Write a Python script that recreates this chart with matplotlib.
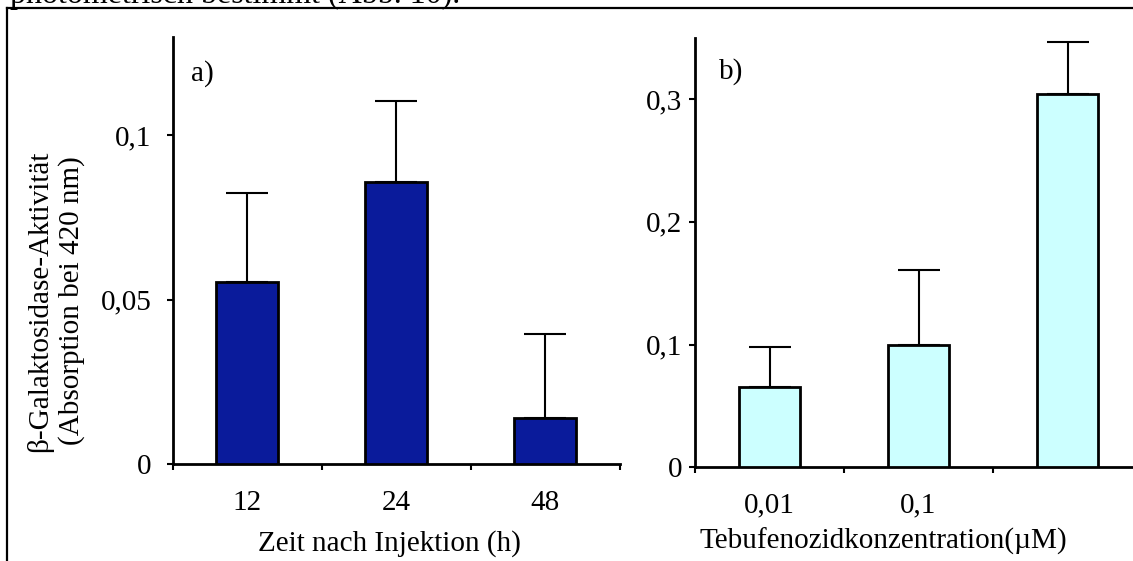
import matplotlib
matplotlib.use("Agg")
import matplotlib.pyplot as plt
from matplotlib.lines import Line2D
import numpy as np

plt.rcParams['font.family'] = ['Liberation Serif', 'DejaVu Serif']

# Panel a data
a_categories = ["12", "24", "48"]
a_values = [0.0554, 0.0857, 0.0139]
a_errors = [0.0272, 0.0248, 0.0256]
a_yticks = [0, 0.05, 0.1]
a_yticklabels = ["0", "0,05", "0,1"]

# Panel b data
b_categories = ["0,01", "0,1", ""]
b_values = [0.065, 0.100, 0.304]
b_errors = [0.033, 0.061, 0.042]
b_yticks = [0, 0.1, 0.2, 0.3]
b_yticklabels = ["0", "0,1", "0,2", "0,3"]

W, H = 1133, 561
DPI = 100
fig = plt.figure(figsize=(W / DPI, H / DPI), dpi=DPI)
fig.patch.set_facecolor("white")

FS = 21
LW = 2.0


def px(x0, y0_top, w, h):
    """convert pixel box (left, top, width, height) to figure fraction rect"""
    return [x0 / W, (H - y0_top - h) / H, w / W, h / H]


def style_axes(ax, ymax, yticks, yticklabels, cats, ypad, xpad):
    n = len(cats)
    ax.set_xlim(0.5, n + 0.5)
    ax.set_ylim(0, ymax)
    for s in ("top", "right"):
        ax.spines[s].set_visible(False)
    for s in ("left", "bottom"):
        ax.spines[s].set_linewidth(LW)
    ax.set_yticks(yticks)
    ax.set_yticklabels(yticklabels, fontsize=FS)
    ax.tick_params(axis="y", direction="out", length=4.3, width=1.5, pad=ypad)
    ax.set_xticks(np.arange(0.5, n + 1, 1.0))
    ax.set_xticklabels([])
    ax.tick_params(axis="x", which="major", direction="out", length=4.3, width=1.5)
    ax.set_xticks(np.arange(1, n + 1), minor=True)
    ax.set_xticklabels(cats, minor=True, fontsize=FS)
    ax.tick_params(axis="x", which="minor", length=0, pad=xpad)


# ---------- panel a ----------
axa = fig.add_axes(px(172.7, 36.8, 447.0, 427.3))
xa = np.arange(1, len(a_categories) + 1)
axa.bar(xa, a_values, width=0.42, color="#0A1B9B", edgecolor="black",
        linewidth=LW, zorder=3)
axa.errorbar(xa, a_values, yerr=[np.zeros(len(a_errors)), a_errors], fmt="none",
             ecolor="black", elinewidth=1.5, capsize=15, capthick=1.5, zorder=2)
style_axes(axa, 0.13, a_yticks, a_yticklabels, a_categories, ypad=11, xpad=19)
axa.text(0.041, 0.913, "a)", transform=axa.transAxes, fontsize=FS,
         ha="left", va="center")
axa.set_xlabel("Zeit nach Injektion (h)", fontsize=FS)
axa.xaxis.label.set_va("center")
axa.xaxis.set_label_coords(0.484, -0.185)

# ---------- panel b ----------
axb = fig.add_axes(px(695.0, 37.5, 447.0, 429.8))
xb = np.arange(1, len(b_categories) + 1)
axb.bar(xb, b_values, width=0.41, color="#CCFFFF", edgecolor="black",
        linewidth=LW, zorder=3)
axb.errorbar(xb, b_values, yerr=[np.zeros(len(b_errors)), b_errors], fmt="none",
             ecolor="black", elinewidth=1.5, capsize=15, capthick=1.5, zorder=2)
style_axes(axb, 0.35, b_yticks, b_yticklabels, b_categories, ypad=5, xpad=18)
axb.text(0.054, 0.92, "b)", transform=axb.transAxes, fontsize=FS,
         ha="left", va="center")
axb.set_xlabel("Tebufenozidkonzentration(\u00b5M)", fontsize=FS)
axb.xaxis.label.set_va("center")
axb.xaxis.set_label_coords(0.4206, -0.173)

# ---------- shared y label ----------
fig.text(55.5 / W, (H - 301) / H,
         "\u03b2-Galaktosidase-Aktivit\u00e4t\n(Absorption bei 420 nm)",
         rotation=90, fontsize=FS, ha="center", va="center",
         multialignment="center", linespacing=1.2)

# ---------- frame and clipped caption above ----------
fig.add_artist(Line2D([7 / W, 1.01], [(H - 8) / H, (H - 8) / H],
                      transform=fig.transFigure, color="black", linewidth=1.6))
fig.add_artist(Line2D([7 / W, 7 / W], [(H - 8) / H, -0.01],
                      transform=fig.transFigure, color="black", linewidth=1.6))
fig.text(10 / W, (H - 2.5) / H, "photometrisch bestimmt (Abb. 10).",
         fontsize=23, ha="left", va="baseline")

fig.savefig("out.png", dpi=DPI, facecolor="white")
